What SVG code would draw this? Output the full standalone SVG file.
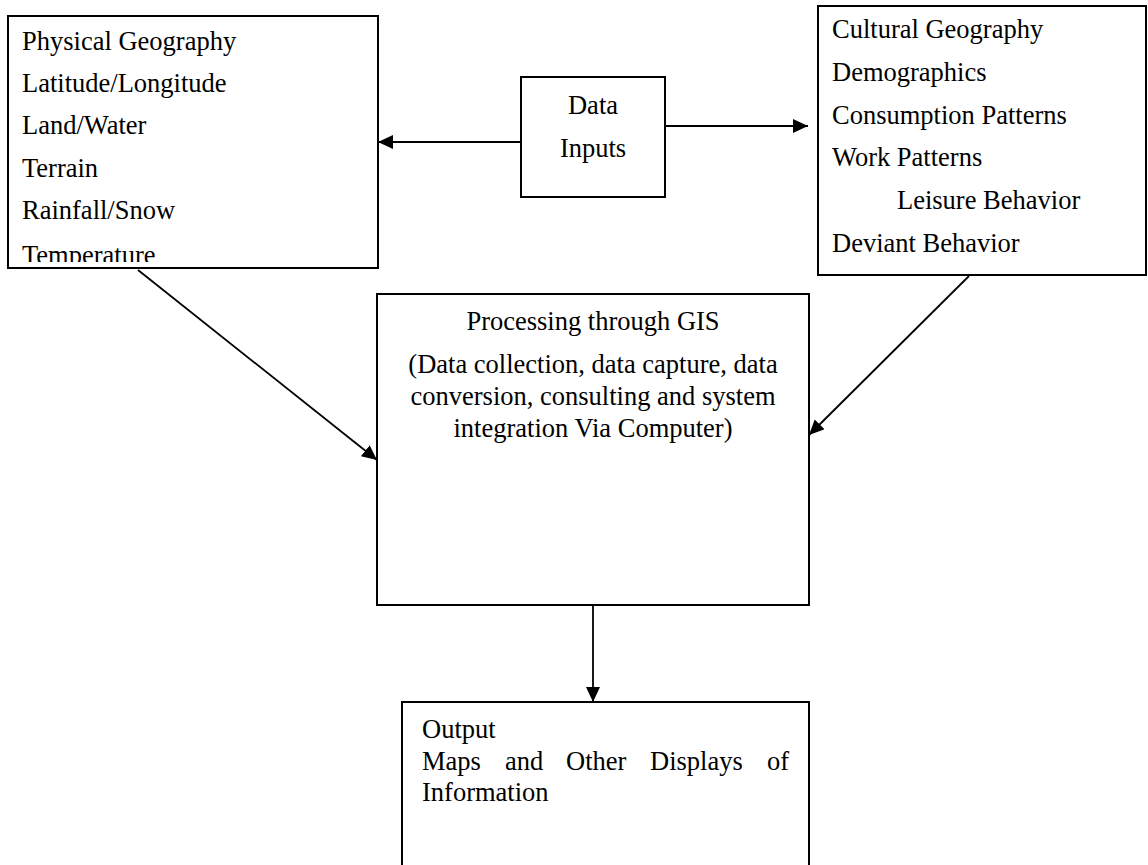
<svg xmlns="http://www.w3.org/2000/svg" width="1148" height="865" viewBox="0 0 1148 865">
<style>
.box{fill:#fff;stroke:#000;stroke-width:2}
.t{font-family:"Liberation Serif","Times New Roman",serif;font-size:26.5px;fill:#000}
.c{text-anchor:middle}
.edge{stroke:#000;stroke-width:1.8;fill:none;marker-end:url(#ah)}
</style>
<defs>
<marker id="ah" markerUnits="userSpaceOnUse" markerWidth="16" markerHeight="16" refX="15" refY="7" orient="auto">
<path d="M0,0 L15,7 L0,14 Z" fill="#000"/>
</marker>
<clipPath id="clipL"><rect x="8" y="16" width="370" height="246"/></clipPath>
</defs>
<rect width="1148" height="865" fill="#fff"/>
<g id="connectors">
<line class="edge" x1="521" y1="142" x2="378" y2="142"/>
<line class="edge" x1="665" y1="126" x2="808" y2="126"/>
<line class="edge" x1="138" y1="270" x2="377" y2="460"/>
<line class="edge" x1="969" y1="276" x2="809" y2="435"/>
<line class="edge" x1="593" y1="605" x2="593" y2="702"/>
</g>
<g id="physical">
<rect class="box" x="8" y="16" width="370" height="252"/>
<g clip-path="url(#clipL)">
<text class="t" x="22" y="50">Physical Geography</text>
<text class="t" x="22" y="92">Latitude/Longitude</text>
<text class="t" x="22" y="134">Land/Water</text>
<text class="t" x="22" y="177">Terrain</text>
<text class="t" x="22" y="219">Rainfall/Snow</text>
<text class="t" x="22" y="264">Temperature</text>
</g>
</g>
<g id="datainputs">
<rect class="box" x="521" y="77" width="144" height="120"/>
<text class="t c" x="593" y="114">Data</text>
<text class="t c" x="593" y="157">Inputs</text>
</g>
<g id="cultural">
<rect class="box" x="818" y="6" width="328" height="269"/>
<text class="t" x="832" y="38">Cultural Geography</text>
<text class="t" x="832" y="81">Demographics</text>
<text class="t" x="832" y="124">Consumption Patterns</text>
<text class="t" x="832" y="166">Work Patterns</text>
<text class="t" x="897" y="209">Leisure Behavior</text>
<text class="t" x="832" y="252">Deviant Behavior</text>
</g>
<g id="processing">
<rect class="box" x="377" y="294" width="432" height="311"/>
<text class="t c" x="593" y="330">Processing through GIS</text>
<text class="t c" x="593" y="373">(Data collection, data capture, data</text>
<text class="t c" x="593" y="405">conversion, consulting and system</text>
<text class="t c" x="593" y="437">integration Via Computer)</text>
</g>
<g id="output">
<path class="box" d="M402,866 V702 H809 V866"/>
<text class="t" x="422" y="738">Output</text>
<text class="t" x="422" y="770">Maps</text>
<text class="t" x="505" y="770">and</text>
<text class="t" x="566" y="770">Other</text>
<text class="t" x="650" y="770">Displays</text>
<text class="t" x="767" y="770">of</text>
<text class="t" x="422" y="801">Information</text>
</g>
</svg>
